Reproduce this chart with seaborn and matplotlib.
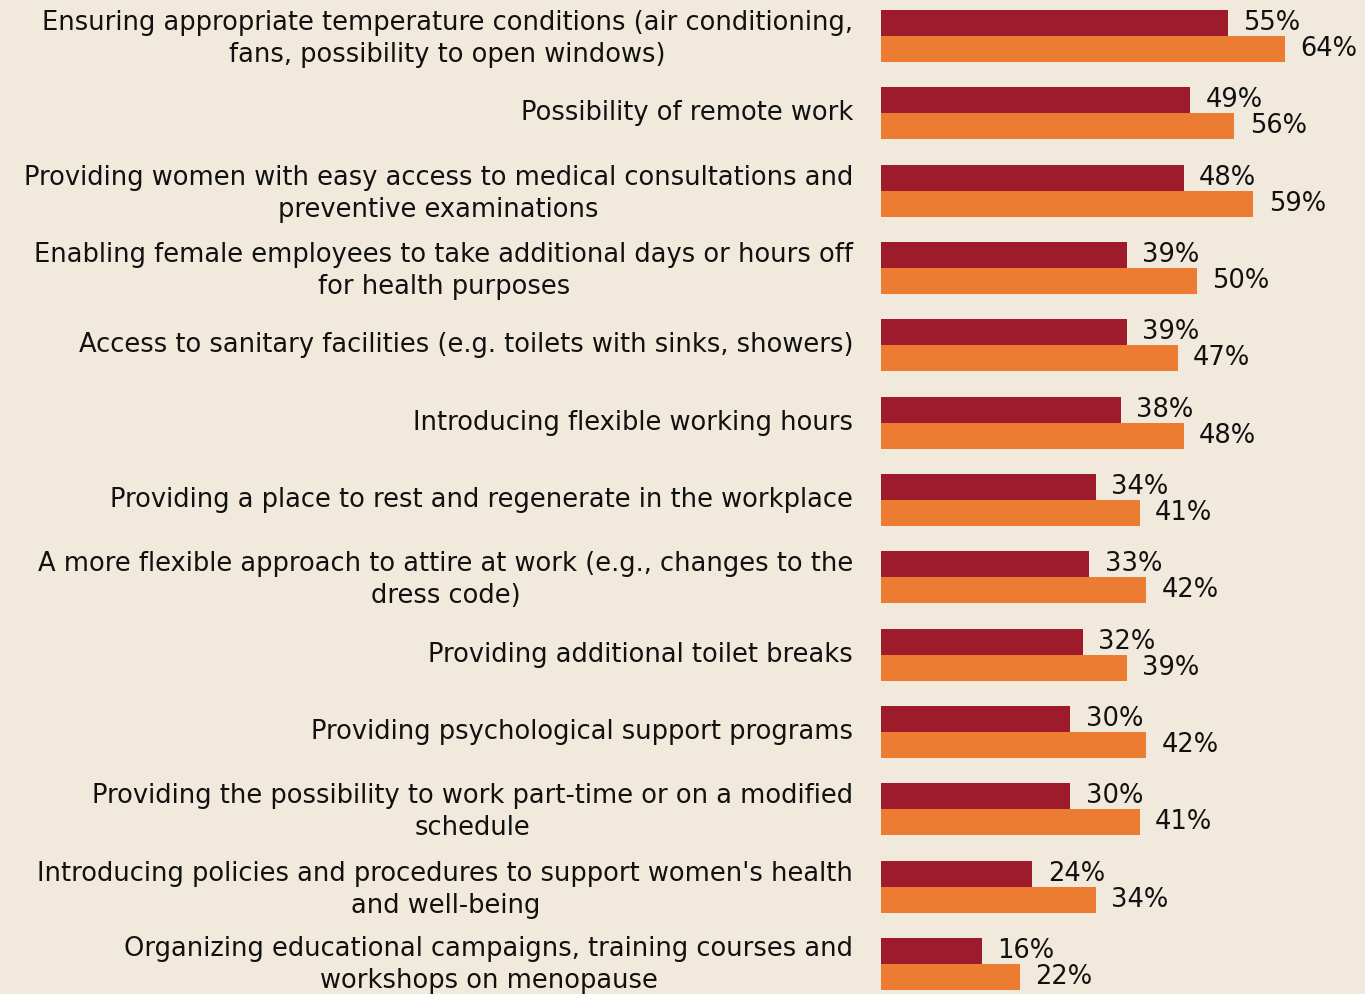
import matplotlib
matplotlib.use("Agg")
import matplotlib.pyplot as plt
import matplotlib.transforms as mtransforms
import pandas as pd
import seaborn as sns

# Chart data
categories = [
    "Ensuring appropriate temperature conditions (air conditioning,\nfans, possibility to open windows)",
    "Possibility of remote work",
    "Providing women with easy access to medical consultations and\npreventive examinations",
    "Enabling female employees to take additional days or hours off\nfor health purposes",
    "Access to sanitary facilities (e.g. toilets with sinks, showers)",
    "Introducing flexible working hours",
    "Providing a place to rest and regenerate in the workplace",
    "A more flexible approach to attire at work (e.g., changes to the\ndress code)",
    "Providing additional toilet breaks",
    "Providing psychological support programs",
    "Providing the possibility to work part-time or on a modified\nschedule",
    "Introducing policies and procedures to support women's health\nand well-being",
    "Organizing educational campaigns, training courses and\nworkshops on menopause",
]
series_names = ["Group 1", "Group 2"]
values_1 = [55, 49, 48, 39, 39, 38, 34, 33, 32, 30, 30, 24, 16]
values_2 = [64, 56, 59, 50, 47, 48, 41, 42, 39, 42, 41, 34, 22]

BG = "#F1EADC"
RED = "#9E1B2B"
ORANGE = "#EC7C32"

df = pd.DataFrame({
    "category": categories * 2,
    "value": values_1 + values_2,
    "series": [series_names[0]] * len(categories) + [series_names[1]] * len(categories),
})

sns.set_theme(style="white")
plt.rcParams["font.family"] = ["DejaVu Sans"]

fig = plt.figure(figsize=(13.65, 9.94), dpi=100)
fig.patch.set_facecolor(BG)
ax = fig.add_axes([881 / 1365, 0, 484 / 1365, 1])
ax.set_facecolor(BG)

sns.barplot(
    data=df,
    x="value",
    y="category",
    hue="series",
    order=categories,
    hue_order=series_names,
    palette=[RED, ORANGE],
    width=0.673,
    orient="h",
    ax=ax,
    legend=False,
    saturation=1,
    linewidth=0,
)

for container in ax.containers:
    ax.bar_label(container, labels=[f"{v:.0f}%" for v in container.datavalues],
                 padding=11, fontsize=18.5, color="#111111")

ax.set_xlim(0, 76.7)
ax.set_ylim(12.39, -0.466)
ax.set_xlabel("")
ax.set_ylabel("")
ax.set_xticks([])
for s in ax.spines.values():
    s.set_visible(False)

ax.tick_params(axis="y", length=0, pad=20)
labels = ax.get_yticklabels()
for i, lbl in enumerate(labels):
    lbl.set_fontsize(18.5)
    lbl.set_color("#111111")
    lbl.set_multialignment("center")
    lbl.set_linespacing(1.3)
    # labels sit a touch above the bar centre; the last one also needs room at the bottom
    up = 5 if i == len(labels) - 1 else 3
    shift = mtransforms.ScaledTranslation(0, up / 100, fig.dpi_scale_trans)
    lbl.set_transform(lbl.get_transform() + shift)

fig.savefig("out.png", dpi=100, facecolor=BG)
